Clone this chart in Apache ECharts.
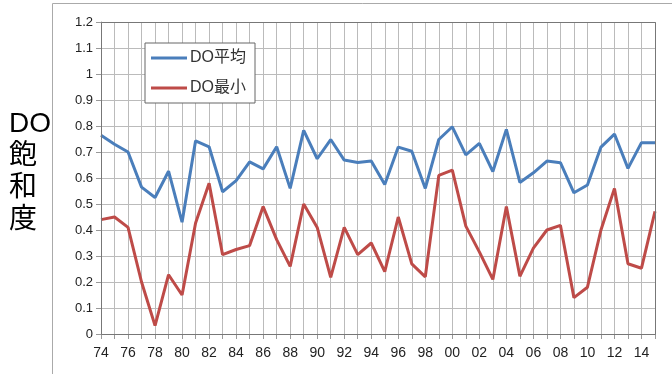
<!DOCTYPE html>
<html><head><meta charset="utf-8">
<script src="https://cdn.jsdelivr.net/npm/echarts@6/dist/echarts.min.js"></script>
<style>html,body{margin:0;padding:0;background:#fff}#c{width:672px;height:374px}</style>
</head><body><div id="c"></div>
<script>
const years = ['74','75','76','77','78','79','80','81','82','83','84','85','86','87','88','89','90','91','92','93','94','95','96','97','98','99','00','01','02','03','04','05','06','07','08','09','10','11','12','13','14','15'];
const doAvg = [0.764,0.73,0.70,0.565,0.525,0.626,0.43,0.743,0.72,0.547,0.59,0.662,0.635,0.72,0.56,0.783,0.674,0.748,0.669,0.66,0.665,0.575,0.719,0.703,0.56,0.748,0.797,0.689,0.733,0.625,0.787,0.583,0.62,0.665,0.659,0.543,0.573,0.719,0.769,0.637,0.736,0.736];
const doMin = [0.44,0.45,0.41,0.20,0.032,0.228,0.15,0.427,0.58,0.305,0.325,0.34,0.49,0.363,0.26,0.50,0.41,0.218,0.41,0.305,0.35,0.24,0.45,0.27,0.22,0.61,0.63,0.415,0.316,0.21,0.49,0.222,0.33,0.40,0.418,0.14,0.18,0.40,0.56,0.27,0.253,0.472];
const seriesNames = ['DO平均','DO最小'];
const yTitle = 'DO\n飽\n和\n度';

const chart = echarts.init(document.getElementById('c'));
const font = '"Liberation Sans", "Noto Sans CJK JP", sans-serif';
chart.setOption({
  animation:false,
  graphic:[
    {type:'rect',shape:{x:52.5,y:3.5,width:640,height:400},style:{fill:'none',stroke:'#aaa',lineWidth:1},z:-1},
    {type:'rect',shape:{x:101.5,y:22.5,width:554,height:312},style:{fill:'none',stroke:'#777',lineWidth:1},z:5,silent:true}
  ],
  title:{text:yTitle,left:4,top:103,textStyle:{fontSize:28,fontWeight:'normal',color:'#000',lineHeight:32,fontFamily:'"Liberation Sans","Noto Sans CJK JP",sans-serif'}},
  legend:{orient:'vertical',left:145,top:43,itemWidth:36,itemHeight:3,icon:'rect',itemGap:14,padding:[7,9,7,6],
    borderColor:'#666',borderWidth:1,backgroundColor:'#fff',
    textStyle:{fontSize:16,color:'#333',fontFamily:font,padding:[0,0,0,-2]},data:seriesNames},
  grid:{left:101,right:17,top:22,bottom:40},
  xAxis:{type:'category',data:years,boundaryGap:false,
    axisLine:{lineStyle:{color:'#999'}},
    axisTick:{show:true,interval:0,lineStyle:{color:'#999'}},
    axisLabel:{interval:1,color:'#222',fontSize:14,fontFamily:font,margin:12},
    splitLine:{show:true,interval:0,lineStyle:{color:'#bbb'}}},
  yAxis:{type:'value',min:0,max:1.2,interval:0.1,
    axisLine:{show:true,lineStyle:{color:'#999'}},
    axisTick:{show:true,lineStyle:{color:'#999'}},
    axisLabel:{color:'#222',fontSize:13,fontFamily:font,margin:8,formatter:v=>String(Math.round(v*10)/10)},
    splitLine:{lineStyle:{color:'#bbb'}}},
  series:[
    {name:seriesNames[0],type:'line',data:doAvg,showSymbol:false,symbol:'none',lineStyle:{color:'#4A7EBB',width:3},itemStyle:{color:'#4A7EBB'}},
    {name:seriesNames[1],type:'line',data:doMin,showSymbol:false,symbol:'none',lineStyle:{color:'#BE4B48',width:3},itemStyle:{color:'#BE4B48'}}
  ]
});
</script></body></html>
